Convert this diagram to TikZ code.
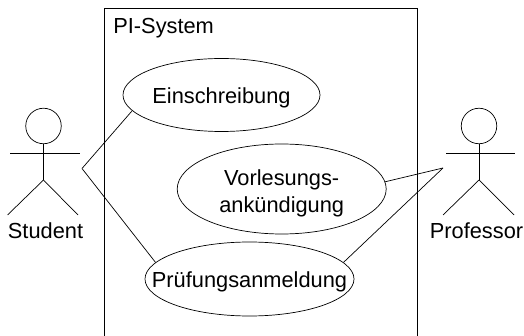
\documentclass[tikz,border=0pt]{standalone}
\usepackage{fontspec}
\setmainfont{Liberation Sans}
\usetikzlibrary{shapes.geometric}
\newcommand{\labelfont}{\fontsize{21.8}{26.7}\selectfont}
\tikzset{usecase/.style={draw,ellipse,inner sep=-30pt,align=center,font=\labelfont},
actorhead/.style={draw,circle,minimum size=35.5pt,inner sep=0pt},
actorlabel/.style={anchor=base,inner sep=0pt,font=\labelfont}}
\begin{document}
\begin{tikzpicture}[x=1pt,y=-1pt,line width=0.7pt]
\useasboundingbox (0,0) rectangle (524,336);
\draw (104,336) -- (104,8) -- (417,8) -- (417,336); % System
\node[anchor=base west,inner sep=0pt,font=\labelfont] (title) at (113,34) {PI-System};
\node[usecase,minimum width=197pt,minimum height=73pt,text height=22pt] (einschreibung) at (221.5,95) {Einschreibung};
\node[usecase,minimum width=209pt,minimum height=90pt] (vorlesung) at (281.7,189) {\rule{0pt}{25pt}Vorlesungs-\\ankündigung};
\node[usecase,minimum width=209pt,minimum height=74pt,text height=20.6pt] (pruefung) at (249.5,279) {Prüfungsanmeldung};
%%Student
\node[actorhead] (studenthead) at (43.5,126) {};
\coordinate (studenthip) at (43.5,180);
\coordinate (studentarml) at (10,153);
\coordinate (studentarmr) at (80,153);
\coordinate (studentfootl) at (7.5,215);
\coordinate (studentfootr) at (78,215);
\draw (studenthead) -- (studenthip);
\draw (studentarml) -- (studentarmr);
\draw (studentfootl) -- (studenthip) -- (studentfootr);
\node[actorlabel] (student) at (45.5,239) {Student};
%%Professor
\node[actorhead] (profhead) at (479,126) {};
\coordinate (profhip) at (479,180);
\coordinate (profarml) at (446,153);
\coordinate (profarmr) at (515,153);
\coordinate (proffootl) at (443,215);
\coordinate (proffootr) at (514,215);
\draw (profhead) -- (profhip);
\draw (profarml) -- (profarmr);
\draw (proffootl) -- (profhip) -- (proffootr);
\node[actorlabel] (professor) at (476.5,239) {Professor};
%%Connectors
\coordinate (studenthand) at (82,168.5);
\coordinate (profhand) at (443,168);
\draw (studenthand) -- (einschreibung.190);
\draw (studenthand) -- (pruefung.170);
\draw (profhand) -- (vorlesung.4);
\draw (profhand) -- (pruefung.10);
\end{tikzpicture}
\end{document}
